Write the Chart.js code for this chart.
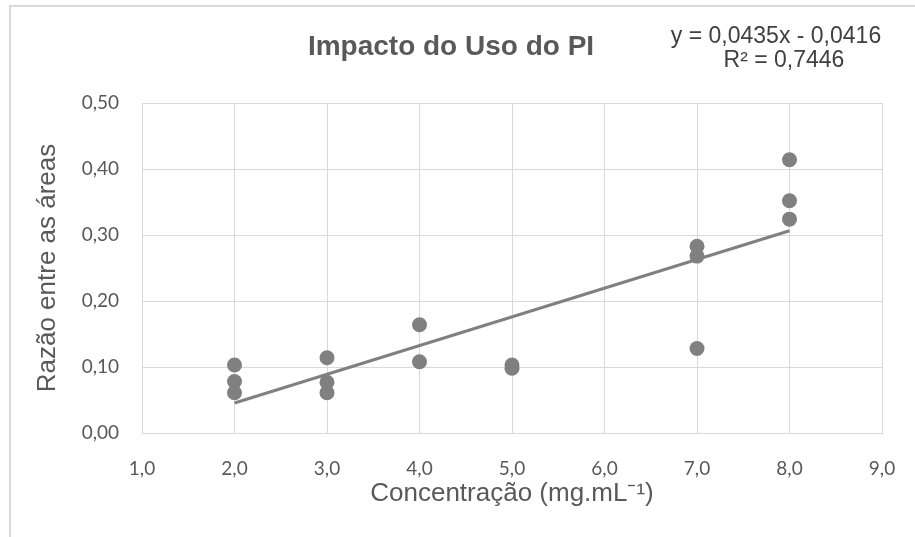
<!DOCTYPE html>
<html>
<head>
<meta charset="utf-8">
<script src="https://cdn.jsdelivr.net/npm/chart.js@4"></script>
<style>
  html, body { margin: 0; padding: 0; background: #fff; }
  #wrap { position: relative; width: 915px; height: 537px; overflow: hidden; }
  #wrap canvas { position: absolute; left: 0; top: 0; }
  #frame {
    position: absolute; left: 9px; top: 5px; width: 950px; height: 600px;
    border-left: 2px solid #d9d9d9; border-top: 2px solid #d9d9d9;
    pointer-events: none;
  }
</style>
</head>
<body>
<div id="wrap">
  <canvas id="grafico" width="915" height="537"></canvas>
  <div id="frame"></div>
</div>
<script>
// concentração (mg/mL) e razão entre as áreas medidas
const concentracao = [2, 2, 2, 3, 3, 3, 4, 4, 5, 5, 7, 7, 7, 8, 8, 8];
const razao = [0.103, 0.078, 0.061, 0.114, 0.077, 0.061, 0.164, 0.108,
               0.103, 0.098, 0.283, 0.268, 0.128, 0.414, 0.352, 0.324];

// linha de tendência linear (Excel)
const inclinacao = [0.0435];
const intercepto = [-0.0416];
const r2 = [0.7446];
const faixaTendencia = [2, 8];

const fmt = (v, d) => v.toFixed(d).replace(".", ",");
const cinza = "#808080";
const texto = "#595959";

const tendencia = faixaTendencia.map(x => ({ x: x, y: inclinacao[0] * x + intercepto[0] }));

const titulos = {
  id: "titulos",
  afterDraw(chart) {
    const ctx = chart.ctx;
    ctx.save();
    ctx.textBaseline = "middle";
    ctx.textAlign = "center";
    ctx.fillStyle = texto;
    ctx.font = "bold 28px 'Liberation Sans', Arial, sans-serif";
    ctx.fillText("Impacto do Uso do PI", 451, 47);

    const b = intercepto[0];
    const eq = "y = " + fmt(inclinacao[0], 4) + "x " + (b < 0 ? "- " : "+ ") + fmt(Math.abs(b), 4);
    ctx.fillStyle = "#404040";
    ctx.font = "23px 'Liberation Sans', Arial, sans-serif";
    ctx.fillText(eq, 776, 37);
    ctx.fillText("R² = " + fmt(r2[0], 4), 784, 61);
    ctx.restore();
  }
};

new Chart(document.getElementById("grafico"), {
  type: "scatter",
  data: {
    datasets: [
      {
        type: "line",
        data: tendencia,
        borderColor: cinza,
        borderWidth: 3,
        pointRadius: 0,
        fill: false,
      },
      {
        data: concentracao.map((x, i) => ({ x: x, y: razao[i] })),
        backgroundColor: cinza,
        borderWidth: 0,
        pointRadius: 7.5,
        pointHoverRadius: 7.5,
      },
    ],
  },
  options: {
    responsive: false,
    animation: false,
    layout: { padding: { top: 103, right: 33, bottom: 0, left: 0 } },
    plugins: {
      legend: { display: false },
      tooltip: { enabled: false },
      title: { display: false },
    },
    scales: {
      x: {
        type: "linear",
        min: 1,
        max: 9,
        // área do gráfico fixa: ignora a folga dos rótulos das pontas
        afterFit: s => { s.height = 104; s.paddingLeft = 0; s.paddingRight = 0; },
        grid: { color: "#d9d9d9", drawTicks: false },
        border: { color: "#d9d9d9" },
        ticks: {
          stepSize: 1,
          padding: 24,
          color: texto,
          font: { family: "Lato", size: 19 },
          callback: v => fmt(v, 1),
        },
        title: {
          display: true,
          text: "Concentração (mg.mL⁻¹)",
          color: texto,
          font: { family: "'Liberation Sans', Arial", size: 26 },
          padding: { top: 0, bottom: 28 },
        },
      },
      y: {
        min: 0,
        max: 0.5,
        afterFit: s => { s.width = 142; },
        grid: { color: "#d9d9d9", drawTicks: false },
        border: { display: false },
        ticks: {
          stepSize: 0.1,
          padding: 23,
          color: texto,
          font: { family: "Lato", size: 19 },
          callback: v => fmt(v, 2),
        },
        title: {
          display: true,
          text: "Razão entre as áreas",
          color: texto,
          font: { family: "'Liberation Sans', Arial", size: 26 },
          padding: { top: 32, bottom: 0 },
        },
      },
    },
  },
  plugins: [titulos],
});
</script>
</body>
</html>
